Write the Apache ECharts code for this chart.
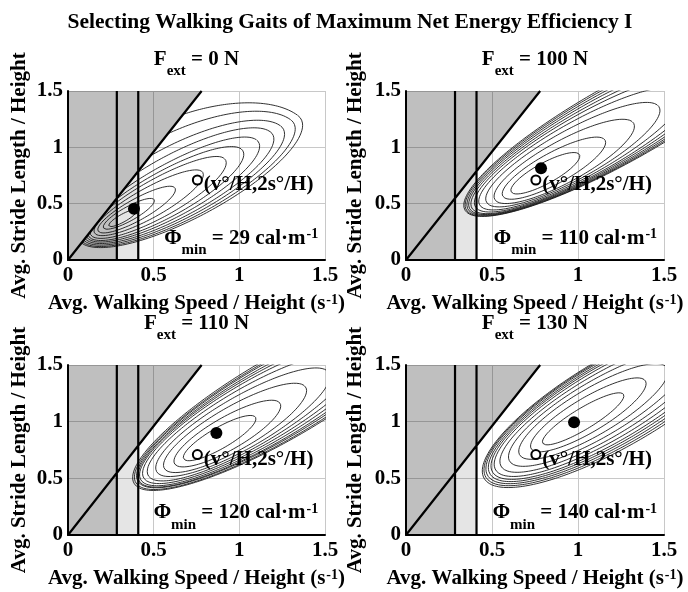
<!DOCTYPE html>
<html><head><meta charset="utf-8">
<script src="https://cdn.jsdelivr.net/npm/echarts@6/dist/echarts.min.js"></script>
<style>html,body{margin:0;padding:0;background:#fff}#main{width:688px;height:592px}</style>
</head><body><div id="main"></div>
<script>
// ---------------- data ----------------
const mainTitle = 'Selecting Walking Gaits of Maximum Net Energy Efficiency I';
const panelForce = ['0', '100', '110', '130'];          // F_ext (N)
const panelPhiMin = ['29', '110', '120', '140'];        // Φmin (cal·m^-1)
const tickLabels = ['0', '0.5', '1', '1.5'];
const xAxisTitle = 'Avg. Walking Speed / Height (s';
const yAxisTitle = 'Avg. Stride Length / Height';
const pointLabel = '(v°/H,2s°/H)';
const speedBoundLow = 0.285;       // left vertical boundary
const speedBoundHigh = 0.41;       // right vertical boundary
const diagonalEnd = [0.78, 1.5];   // diagonal boundary from the origin
const preferredGait = [0.755, 0.71];
const optimumSpeed = [0.385, 0.785, 0.866, 0.977];
const optimumStride = [0.455, 0.814, 0.90, 0.994];
// contour ellipses (centre, semi-axes, tilt) per panel
const contourTilt = [42, 42, 43, 44];
const contourCx = [
  [0.32, 0.355, 0.40, 0.47, 0.525, 0.57, 0.61, 0.645, 0.67, 0.695, 0.71],
  [0.81, 0.86, 0.92, 0.97, 1.02, 1.07, 1.11, 1.15, 1.185, 1.22, 1.25],
  [0.885, 0.93, 0.975, 1.02, 1.06, 1.10, 1.135, 1.17, 1.20, 1.225, 1.245],
  [1.03, 1.06, 1.09, 1.12, 1.145, 1.165, 1.185, 1.20, 1.213, 1.225, 1.235]];
const contourCy = [
  [0.372, 0.41, 0.448, 0.509, 0.557, 0.591, 0.626, 0.657, 0.678, 0.70, 0.717],
  [0.77, 0.815, 0.875, 0.935, 0.99, 1.04, 1.08, 1.12, 1.155, 1.19, 1.22],
  [0.855, 0.895, 0.945, 0.995, 1.04, 1.08, 1.11, 1.14, 1.17, 1.19, 1.21],
  [1.025, 1.06, 1.09, 1.115, 1.135, 1.15, 1.162, 1.172, 1.18, 1.185, 1.188]];
const contourA = [
  [0.108, 0.195, 0.296, 0.417, 0.518, 0.592, 0.659, 0.72, 0.767, 0.814, 0.848],
  [0.26, 0.39, 0.53, 0.66, 0.78, 0.88, 0.96, 1.03, 1.09, 1.15, 1.20],
  [0.28, 0.41, 0.55, 0.67, 0.79, 0.88, 0.95, 1.01, 1.06, 1.11, 1.15],
  [0.32, 0.45, 0.58, 0.70, 0.80, 0.87, 0.92, 0.96, 0.995, 1.025, 1.05]];
const contourBUp = [
  [0.03, 0.055, 0.08, 0.11, 0.14, 0.17, 0.20, 0.25, 0.31, 0.40, 0.50],
  [0.08, 0.12, 0.16, 0.19, 0.215, 0.235, 0.25, 0.265, 0.278, 0.29, 0.30],
  [0.08, 0.125, 0.165, 0.197, 0.223, 0.245, 0.262, 0.277, 0.29, 0.302, 0.313],
  [0.08, 0.13, 0.175, 0.21, 0.24, 0.265, 0.285, 0.30, 0.315, 0.328, 0.34]];
const contourBLo = [
  [0.03, 0.055, 0.085, 0.12, 0.155, 0.18, 0.205, 0.23, 0.25, 0.27, 0.29],
  [0.08, 0.12, 0.16, 0.19, 0.215, 0.235, 0.25, 0.265, 0.278, 0.29, 0.30],
  [0.08, 0.125, 0.165, 0.197, 0.223, 0.245, 0.262, 0.277, 0.29, 0.302, 0.313],
  [0.08, 0.13, 0.175, 0.21, 0.24, 0.265, 0.285, 0.30, 0.315, 0.328, 0.34]];

// ---------------- layout & styles ----------------
const FONT = '"Liberation Serif", "Times New Roman", serif';
const grids = [
  {left: 68, top: 91, width: 257, height: 169},
  {left: 406, top: 91, width: 258, height: 169},
  {left: 68, top: 365, width: 257, height: 170},
  {left: 406, top: 365, width: 258, height: 170}];
const titleY = [49, 49, 313, 313];
const yNameGap = [38, 40, 38, 40];
const RICH = {
  n: {fontFamily: FONT, fontWeight: 'bold', fontSize: 21, lineHeight: 22, verticalAlign: 'top', color: '#000'},
  sub: {fontFamily: FONT, fontWeight: 'bold', fontSize: 15, lineHeight: 14, padding: [15, 0, 0, 0], verticalAlign: 'top', color: '#000'},
  sup: {fontFamily: FONT, fontWeight: 'bold', fontSize: 14, lineHeight: 13, padding: [0, 0, 0, 1], verticalAlign: 'top', color: '#000'}
};

function contourSeriesData(p) {
  const th = contourTilt[p] * Math.PI / 180, c = Math.cos(th), s = Math.sin(th);
  const slope = diagonalEnd[1] / diagonalEnd[0];
  const out = [];
  for (let k = 0; k < contourCx[p].length; k++) {
    for (let d = 0; d <= 360; d += 0.5) {
      const t = d * Math.PI / 180;
      const b = Math.sin(t) >= 0 ? contourBUp[p][k] : contourBLo[p][k];
      const u = contourA[p][k] * Math.cos(t), w = b * Math.sin(t);
      const x = contourCx[p][k] + u * c - w * s;
      const y = contourCy[p][k] + u * s + w * c;
      out.push(y <= slope * x ? [x, y] : [x, '-']);
    }
    out.push([0, '-']);
  }
  return out;
}

const xAxes = [], yAxes = [], series = [], graphics = [];
graphics.push({type: 'text', x: 350, y: 11, style: {text: mainTitle, font: 'bold 21.5px ' + FONT, fill: '#000', align: 'center', verticalAlign: 'top'}});

for (let p = 0; p < 4; p++) {
  const g = grids[p];
  xAxes.push({
    type: 'value', gridIndex: p, min: 0, max: 1.5, interval: 0.5,
    name: '{n|' + xAxisTitle + '}{sup|-1}{n|)}', nameLocation: 'middle', nameGap: 33,
    nameTextStyle: {rich: RICH, verticalAlign: 'top'},
    axisLine: {show: true, onZero: false, lineStyle: {color: '#000', width: 2}},
    axisTick: {show: false},
    axisLabel: {margin: 5, color: '#000', fontFamily: FONT, fontWeight: 'bold', fontSize: 21, formatter: v => tickLabels[Math.round(v / 0.5)]},
    splitLine: {show: true, lineStyle: {color: '#c8c8c8', width: 1}}
  });
  yAxes.push({
    type: 'value', gridIndex: p, min: 0, max: 1.5, interval: 0.5,
    name: yAxisTitle, nameLocation: 'middle', nameGap: yNameGap[p], nameRotate: 90,
    nameTextStyle: {color: '#000', fontFamily: FONT, fontWeight: 'bold', fontSize: 21},
    axisLine: {show: true, onZero: false, lineStyle: {color: '#000', width: 2}},
    axisTick: {show: false},
    axisLabel: {margin: 5, color: '#000', fontFamily: FONT, fontWeight: 'bold', fontSize: 21, formatter: v => tickLabels[Math.round(v / 0.5)]},
    splitLine: {show: true, lineStyle: {color: '#c8c8c8', width: 1}}
  });
  // shaded regions
  const slope = diagonalEnd[1] / diagonalEnd[0];
  const darkPoly = [[0, 0], [speedBoundLow, 0], [speedBoundLow, speedBoundLow * slope], diagonalEnd, [0, 1.5]];
  const lightPoly = [[speedBoundLow, 0], [speedBoundHigh, 0], [speedBoundHigh, speedBoundHigh * slope], [speedBoundLow, speedBoundLow * slope]];
  series.push({
    type: 'custom', xAxisIndex: p, yAxisIndex: p, data: [0], silent: true, z: 1,
    renderItem: (params, api) => ({type: 'group', children: [
      {type: 'polygon', shape: {points: darkPoly.map(q => api.coord(q))}, style: {fill: 'rgba(0,0,0,0.25)'}},
      {type: 'polygon', shape: {points: lightPoly.map(q => api.coord(q))}, style: {fill: 'rgba(0,0,0,0.1)'}}
    ]})
  });
  // contours
  series.push({
    type: 'line', xAxisIndex: p, yAxisIndex: p, data: contourSeriesData(p), showSymbol: false, symbol: 'none',
    silent: true, clip: true, connectNulls: false, z: 2,
    lineStyle: {color: '#1a1a1a', width: 0.9}
  });
  // boundary lines
  series.push({
    type: 'line', xAxisIndex: p, yAxisIndex: p, symbol: 'none', silent: true, clip: true, z: 3,
    data: [[speedBoundLow, 0], [speedBoundLow, 1.5], [0, '-'], [speedBoundHigh, 0], [speedBoundHigh, 1.5], [0, '-'], [0, 0], diagonalEnd],
    lineStyle: {color: '#000', width: 2.2}
  });
  // optimum (filled) point
  series.push({
    type: 'scatter', xAxisIndex: p, yAxisIndex: p, silent: true, z: 4,
    data: [[optimumSpeed[p], optimumStride[p]]], symbolSize: 12, itemStyle: {color: '#000', opacity: 1}
  });
  // preferred gait (open) point
  series.push({
    type: 'scatter', xAxisIndex: p, yAxisIndex: p, silent: true, z: 5,
    data: [preferredGait], symbolSize: 9, itemStyle: {color: '#fff', borderColor: '#000', borderWidth: 2, opacity: 1},
    label: {show: true, position: 'right', distance: 1, offset: [0, 5], formatter: pointLabel,
      color: '#000', fontFamily: FONT, fontWeight: 'bold', fontSize: 21}
  });
  // Φmin annotation
  series.push({
    type: 'scatter', xAxisIndex: p, yAxisIndex: p, silent: true, z: 6,
    data: [[1.46, 0.19]], symbolSize: 0, itemStyle: {opacity: 1},
    label: {show: true, position: 'left', distance: 0,
      formatter: '{n|Φ}{sub|min}{n| = ' + panelPhiMin[p] + ' cal·m}{sup|-1}', rich: RICH}
  });
  // panel title
  graphics.push({type: 'text', x: g.left + g.width / 2, y: titleY[p],
    style: {text: '{n|F}{sub|ext}{n| = ' + panelForce[p] + ' N}', rich: RICH, align: 'center', verticalAlign: 'top'}});
}

const chart = echarts.init(document.getElementById('main'), null, {renderer: 'canvas'});
chart.setOption({
  animation: false,
  backgroundColor: '#fff',
  grid: grids.map(g => Object.assign({containLabel: false}, g)),
  xAxis: xAxes, yAxis: yAxes, series: series, graphic: graphics
});
</script></body></html>
